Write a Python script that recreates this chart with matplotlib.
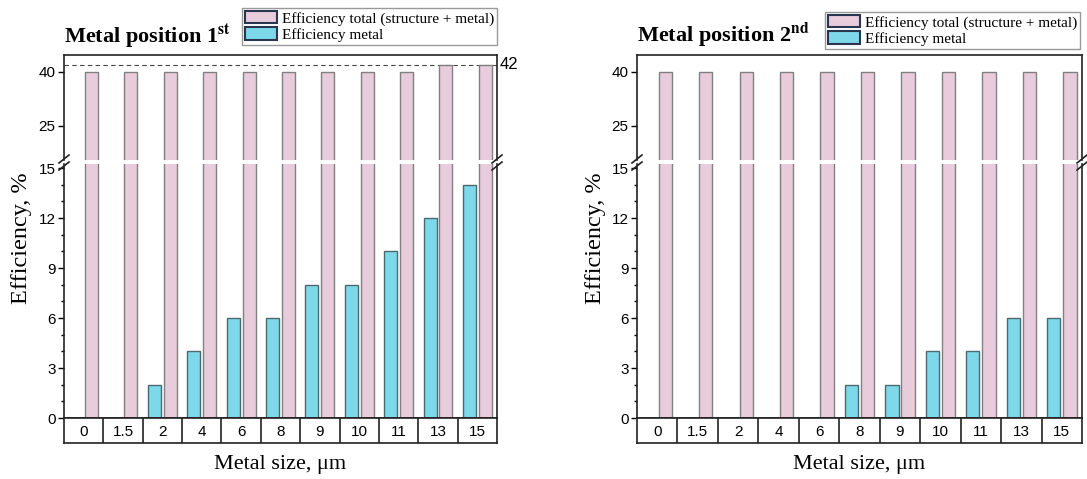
import matplotlib.pyplot as plt
from matplotlib.patches import Patch

# ======== DATA ========
sizes = ["0", "1.5", "2", "4", "6", "8", "9", "10", "11", "13", "15"]
total_1st = [40, 40, 40, 40, 40, 40, 40, 40, 40, 42, 42]
metal_1st = [0, 0, 2, 4, 6, 6, 8, 8, 10, 12, 14]
total_2nd = [40, 40, 40, 40, 40, 40, 40, 40, 40, 40, 40]
metal_2nd = [0, 0, 0, 0, 0, 2, 2, 4, 4, 6, 6]

PINK = "#E8CCDC"
CYAN = "#7DD8EA"
SERIF = "Liberation Serif"
SANS = "Liberation Sans"

W, H = 1087, 479
fig = plt.figure(figsize=(W / 100, H / 100), dpi=100)


def box(x0, x1, y0, y1):
    # pixel box -> figure fraction rect
    return [x0 / W, 1 - y1 / H, (x1 - x0) / W, (y1 - y0) / H]


def panel(x0, x1, total, metal, title, legend_right, legend_top, line42=False):
    n = len(sizes)
    xs = list(range(n))
    ax_up = fig.add_axes(box(x0, x1, 55, 160))
    ax_lo = fig.add_axes(box(x0, x1, 164, 418))
    ax_tb = fig.add_axes(box(x0, x1, 418, 443))

    for ax in (ax_up, ax_lo):
        ax.bar([x + 0.2 for x in xs], total, width=0.33, color=PINK,
               edgecolor="#808080", linewidth=1.0, zorder=2)
        ax.bar([x - 0.2 for x in xs], metal, width=0.33, color=CYAN,
               edgecolor="#4a6a70", linewidth=1.0, zorder=2)
        ax.set_xlim(-0.5, n - 0.5)
        ax.set_xticks([])
        for s in ax.spines.values():
            s.set_linewidth(1.2)
            s.set_color("#222222")
        ax.tick_params(axis="y", direction="out", length=4, width=1,
                       labelsize=11, pad=2)

    ax_up.set_ylim(15.56, 44.7)
    ax_up.set_yticks([25, 40])
    ax_up.spines["bottom"].set_visible(False)
    ax_lo.set_ylim(0, 15.24)
    ax_lo.set_yticks([0, 3, 6, 9, 12, 15])
    ax_lo.set_yticks(range(0, 16), minor=True)
    ax_lo.tick_params(axis="y", which="minor", length=2.5, width=1)
    ax_lo.spines["top"].set_visible(False)
    for ax in (ax_up, ax_lo):
        for lab in ax.get_yticklabels():
            lab.set_family(SANS)

    if line42:
        ax_up.axhline(42, color="#444444", linestyle=(0, (4, 3)),
                      linewidth=0.8, zorder=1)
        ax_up.text(1.005, 42, "42", transform=ax_up.get_yaxis_transform(),
                   ha="left", va="center", fontsize=12, family=SANS)

    # category row under the bars
    ax_tb.set_xlim(-0.5, n - 0.5)
    ax_tb.set_ylim(0, 1)
    ax_tb.set_xticks([])
    ax_tb.set_yticks([])
    for s in ax_tb.spines.values():
        s.set_linewidth(1.2)
        s.set_color("#222222")
    for i in range(n - 1):
        ax_tb.axvline(i + 0.5, color="#222222", linewidth=1.2)
    for i, lab in enumerate(sizes):
        ax_tb.text(i, 0.45, lab, ha="center", va="center", fontsize=11,
                   family=SANS)

    # break marks on the spines
    for xp in (x0, x1):
        for yp in (159, 166):
            fig.lines.append(plt.Line2D([(xp - 5) / W, (xp + 5) / W],
                                        [1 - (yp + 4) / H, 1 - (yp - 4) / H],
                                        transform=fig.transFigure,
                                        color="#222222", linewidth=1.2))

    fig.text(x0 / W, 1 - 42 / H, title, fontsize=16, family=SERIF,
             fontweight="bold", ha="left", va="baseline")
    fig.text((x0 + x1) / 2 / W, 1 - 465 / H, "Metal size, μm", fontsize=16,
             family=SERIF, ha="center", va="center")
    fig.text((x0 - 42) / W, 1 - 238 / H, "Efficiency, %", fontsize=17.5,
             family=SERIF, rotation=90, ha="center", va="center")

    handles = [Patch(facecolor=PINK, edgecolor="#2a3550", linewidth=1.5),
               Patch(facecolor=CYAN, edgecolor="#2a3550", linewidth=1.5)]
    fig.legend(handles, ["Efficiency total (structure + metal)", "Efficiency metal"],
               loc="upper right", bbox_to_anchor=(legend_right / W, 1 - legend_top / H),
               prop={"family": SERIF, "size": 11}, frameon=True, fancybox=False,
               edgecolor="#999999", framealpha=1, handlelength=2.1,
               handleheight=0.85, labelspacing=0.12, borderpad=0.2,
               handletextpad=0.3, borderaxespad=0)


plt.rcParams["mathtext.fontset"] = "stix"
panel(64, 497, total_1st, metal_1st, r"Metal position 1$^{\mathbf{st}}$", 497, 8, line42=True)
panel(637, 1082, total_2nd, metal_2nd, r"Metal position 2$^{\mathbf{nd}}$", 1080, 12)

plt.savefig("out.png", dpi=100)
